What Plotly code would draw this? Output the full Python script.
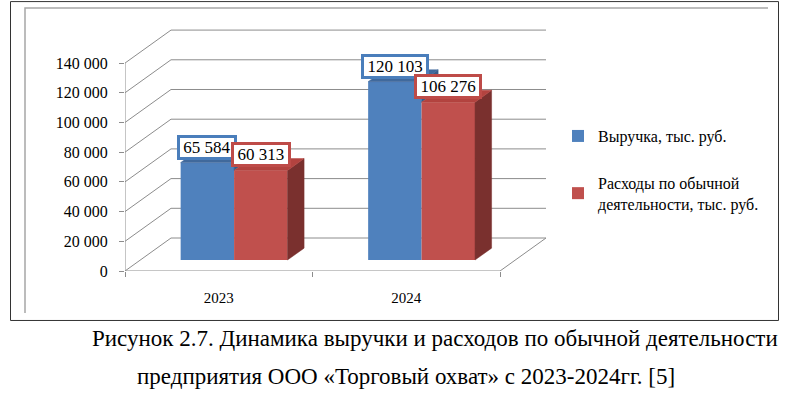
import plotly.graph_objects as go

# ---------------- data ----------------
CATEGORIES = ["2023", "2024"]
REVENUE = [65584, 120103]
EXPENSES = [60313, 106276]
SERIES_NAMES = ["Выручка, тыс. руб.", "Расходы по обычной<br>деятельности, тыс. руб."]
Y_TICKS = [0, 20000, 40000, 60000, 80000, 100000, 120000, 140000]
Y_TICK_TEXT = ["0", "20 000", "40 000", "60 000", "80 000", "100 000", "120 000", "140 000"]
CAPTION_1 = "Рисунок 2.7. Динамика выручки и расходов по обычной деятельности"
CAPTION_2 = "предприятия ООО «Торговый охват» с 2023-2024гг. [5]"

# ---------------- style / geometry ----------------
FONT = "'Liberation Serif', 'Times New Roman', serif"
W, H = 800, 394
ML, MB = 125, 123
X_RANGE = [0, 2.32]
Y_RANGE = [0, 169000]
PX_X = 187.5               # pixels per category
PX_Y = 29.714 / 20000      # pixels per value unit
plot_w = (X_RANGE[1] - X_RANGE[0]) * PX_X
plot_h = (Y_RANGE[1] - Y_RANGE[0]) * PX_Y
MR = W - ML - plot_w
MT = H - MB - plot_h

DX = 46 / PX_X             # full depth offset (x units)
DY = 33 / PX_Y             # full depth offset (value units)
F0 = 1 / 3                 # depth of bar front plane
G = 0.36                   # bar depth fraction
BAR_W = 0.285

BLUE, RED = "#4f81bd", "#c0504d"
BLUE_TOP, BLUE_SIDE = "#40699c", "#385d8a"
RED_TOP, RED_SIDE = "#b3433f", "#7a302e"
GRID = "#8c8c8c"


def px_to_paper_x(px):
    return (px - ML) / plot_w


def px_to_paper_y(py):
    return (H - MB - py) / plot_h


n = len(CATEGORIES)
shift_x = F0 * DX
base = F0 * DY
blue_x = [i + 0.5 + shift_x - BAR_W / 2 for i in range(n)]
red_x = [i + 0.5 + shift_x + BAR_W / 2 for i in range(n)]
gdx, gdy = G * DX, G * DY

fig = go.Figure()

# front faces
fig.add_trace(go.Bar(x=blue_x, y=REVENUE, base=base, width=BAR_W, name=SERIES_NAMES[0],
                     marker=dict(color=BLUE, line=dict(width=0)), legendgroup="a"))
fig.add_trace(go.Bar(x=red_x, y=EXPENSES, base=base, width=BAR_W, name=SERIES_NAMES[1],
                     marker=dict(color=RED, line=dict(width=0)), legendgroup="b"))


def poly_trace(polys, color):
    xs, ys = [], []
    for p in polys:
        for (a, b) in p + [p[0]]:
            xs.append(a)
            ys.append(b)
        xs.append(None)
        ys.append(None)
    return go.Scatter(x=xs, y=ys, mode="lines", fill="toself", fillcolor=color,
                      line=dict(color=color, width=0.5), showlegend=False, hoverinfo="skip")


blue_side, blue_top, red_side, red_top = [], [], [], []
for i in range(n):
    xl, xr = blue_x[i] - BAR_W / 2, blue_x[i] + BAR_W / 2
    t = base + REVENUE[i]
    rt = base + EXPENSES[i]
    blue_side.append([(xr, rt), (xr, t), (xr + gdx, t + gdy), (xr + gdx, rt + gdy)])
    blue_top.append([(xl, t), (xr, t), (xr + gdx, t + gdy), (xl + gdx, t + gdy)])
    xl2, xr2 = red_x[i] - BAR_W / 2, red_x[i] + BAR_W / 2
    red_side.append([(xr2, base), (xr2, rt), (xr2 + gdx, rt + gdy), (xr2 + gdx, base + gdy)])
    red_top.append([(xl2, rt), (xr2, rt), (xr2 + gdx, rt + gdy), (xl2 + gdx, rt + gdy)])

fig.add_trace(poly_trace(blue_side, BLUE_SIDE))
fig.add_trace(poly_trace(blue_top, BLUE_TOP))
fig.add_trace(poly_trace(red_side, RED_SIDE))
fig.add_trace(poly_trace(red_top, RED_TOP))

shapes = []
for v in Y_TICKS:
    shapes.append(dict(type="path", xref="x", yref="y", layer="below",
                       path=f"M0,{v} L{DX},{v + DY} L{n + DX},{v + DY}",
                       line=dict(color=GRID, width=1)))
shapes.append(dict(type="path", xref="x", yref="y", layer="below",
                   path=f"M0,0 L{n},0 L{n + DX},{DY}", line=dict(color=GRID, width=1)))
shapes.append(dict(type="line", xref="x", yref="y", layer="below",
                   x0=0, x1=0, y0=0, y1=Y_TICKS[-1], line=dict(color=GRID, width=1)))
shapes.append(dict(type="rect", xref="paper", yref="paper",
                   x0=px_to_paper_x(10.5), x1=px_to_paper_x(778.5),
                   y0=px_to_paper_y(320.5), y1=px_to_paper_y(1.5),
                   line=dict(color="#333333", width=1)))
shapes.append(dict(type="path", xref="paper", yref="paper",
                   path=(f"M{px_to_paper_x(25)},{px_to_paper_y(313)} "
                         f"L{px_to_paper_x(25)},{px_to_paper_y(8)} "
                         f"L{px_to_paper_x(768)},{px_to_paper_y(8)}"),
                   line=dict(color="#a6a6a6", width=1.5)))

annotations = []
for i in range(n):
    for xs, vals, col in ((blue_x, REVENUE, "#4a7ebb"), (red_x, EXPENSES, "#be4b48")):
        txt = f"{vals[i]:,}".replace(",", " ")
        annotations.append(dict(x=xs[i], y=base + vals[i], xref="x", yref="y",
                                text=txt, showarrow=False,
                                yanchor="bottom", yshift=3, bgcolor="white",
                                width=8.6 * len(txt), height=17,
                                bordercolor=col, borderwidth=3, borderpad=1,
                                font=dict(family=FONT, size=17, color="black")))
annotations.append(dict(x=px_to_paper_x(90), y=px_to_paper_y(339), xref="paper", yref="paper",
                        text=CAPTION_1, showarrow=False, xanchor="left", yanchor="middle",
                        font=dict(family=FONT, size=23, color="black")))
annotations.append(dict(x=px_to_paper_x(135), y=px_to_paper_y(377), xref="paper", yref="paper",
                        text=CAPTION_2, showarrow=False, xanchor="left", yanchor="middle",
                        font=dict(family=FONT, size=23, color="black")))

fig.update_layout(
    template="none",
    width=W, height=H,
    margin=dict(l=ML, r=MR, t=MT, b=MB, autoexpand=False),
    paper_bgcolor="white", plot_bgcolor="white",
    barmode="overlay",
    font=dict(family=FONT, size=16, color="black"),
    showlegend=True,
    legend=dict(x=px_to_paper_x(558), y=px_to_paper_y(119), xanchor="left", yanchor="top",
                tracegroupgap=23, font=dict(family=FONT, size=16, color="black"),
                bgcolor="rgba(0,0,0,0)"),
    shapes=shapes,
    annotations=annotations,
    xaxis=dict(range=X_RANGE, showgrid=False, zeroline=False, showline=False, automargin=False,
               tickvals=[i + 0.5 for i in range(n)], ticktext=CATEGORIES, ticks="",
               ticklabelstandoff=16, tickfont=dict(family=FONT, size=15),
               minor=dict(tickvals=list(range(n + 1)), ticks="outside", ticklen=5,
                          tickcolor=GRID, tickwidth=1)),
    yaxis=dict(range=Y_RANGE, showgrid=False, zeroline=False, showline=False, automargin=False,
               tickvals=Y_TICKS, ticktext=Y_TICK_TEXT, ticks="outside", ticklen=5,
               tickcolor=GRID, ticklabelstandoff=8, tickfont=dict(family=FONT, size=16)),
)

fig.write_html("out.html", config={"displayModeBar": False},
               post_script="document.body.style.margin='0';")
